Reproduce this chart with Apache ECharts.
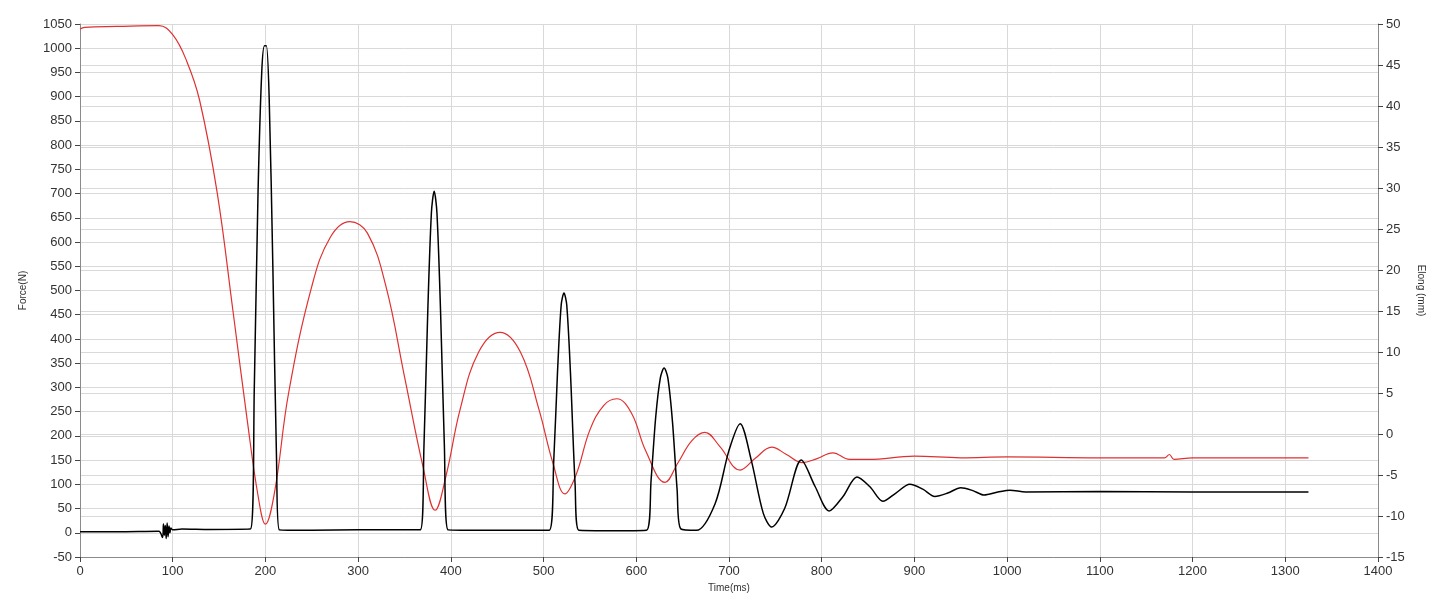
<!DOCTYPE html>
<html>
<head>
<meta charset="utf-8">
<script src="https://cdn.jsdelivr.net/npm/echarts@6/dist/echarts.min.js"></script>
<style>html,body{margin:0;padding:0;background:#fff}#main{width:1445px;height:608px}</style>
</head>
<body>
<div id="main"></div>
<script>
// force (N) vs time (ms)
let forceT = [0, 40, 85, 89, 90, 91, 92, 93, 94, 95, 96, 97, 98, 100, 110, 140, 184, 188, 192, 196, 199, 201, 204, 208, 212, 215, 250, 300, 367, 371, 375, 379, 382, 385, 389, 393, 397, 450, 506, 511, 515, 519, 522, 525, 529, 534, 538, 580, 611, 616, 621, 626, 630, 634, 639, 644, 648, 665, 685, 700, 712, 724, 737, 746, 760, 778, 793, 808, 823, 838, 852, 866, 880, 895, 909, 922, 936, 950, 963, 975, 990, 1003, 1020, 1100, 1200, 1325];
let forceV = [2, 2, 3, -10, 18, -5, 15, -12, 20, -8, 14, 0, 10, 6, 8, 7, 8, 300, 700, 950, 1005, 1005, 900, 550, 150, 6, 5, 6, 6, 180, 450, 660, 705, 660, 450, 180, 6, 5, 5, 150, 330, 470, 495, 470, 330, 100, 5, 4, 5, 110, 240, 320, 340, 320, 230, 90, 8, 5, 60, 170, 225, 150, 40, 12, 50, 150, 95, 45, 75, 115, 95, 65, 82, 100, 90, 75, 82, 93, 87, 78, 84, 88, 84, 85, 84, 84];
// elongation (mm) vs time (ms)
let elongT = [0, 5, 40, 85, 100, 115, 129, 148, 165, 180, 192, 200, 210, 225, 250, 270, 291, 310, 330, 350, 370, 383, 395, 410, 430, 453, 475, 495, 510, 523, 535, 550, 565, 579, 595, 610, 631, 645, 660, 674, 690, 712, 728, 746, 762, 779, 795, 812, 830, 850, 900, 950, 1000, 1100, 1170, 1175, 1180, 1200, 1325];
let elongV = [49.4, 49.6, 49.7, 49.8, 48.7, 45.5, 40.7, 29.4, 15, 2, -7.5, -11, -7, 5, 18, 24, 25.9, 24.5, 18, 7, -4, -9.3, -5, 3, 10, 12.4, 10, 3, -3.5, -7.3, -5, 0.5, 3.5, 4.3, 2.5, -2, -5.9, -3.5, -0.8, 0.2, -1.5, -4.4, -3, -1.6, -2.5, -3.5, -3, -2.3, -3.1, -3.1, -2.7, -2.9, -2.8, -2.9, -2.9, -2.5, -3.1, -2.9, -2.9];

function pairs(t, v) {
  let out = [];
  for (let i = 0; i < t.length; i++) out.push([t[i], v[i]]);
  return out;
}

let chart = echarts.init(document.getElementById('main'));
let axisCommon = {
  axisLine: { show: true, onZero: false, lineStyle: { color: '#8a8a8a' } },
  axisTick: { show: true, lineStyle: { color: '#444' }, length: 5 },
  axisLabel: { color: '#333', fontSize: 13, fontFamily: 'Arial', formatter: function(v) { return String(v); } },
  splitLine: { show: true, lineStyle: { color: '#d9d9d9' } },
  nameTextStyle: { color: '#333', fontSize: 10, fontFamily: 'Arial' }
};
chart.setOption({
  animation: false,
  grid: { left: 80, right: 67, top: 24, bottom: 51 },
  xAxis: Object.assign({}, axisCommon, {
    type: 'value', min: 0, max: 1400, interval: 100,
    name: 'Time(ms)', nameLocation: 'middle', nameGap: 25
  }),
  yAxis: [
    Object.assign({}, axisCommon, {
      type: 'value', min: -50, max: 1050, interval: 50,
      name: 'Force(N)', nameLocation: 'middle', nameGap: 52
    }),
    Object.assign({}, axisCommon, {
      type: 'value', min: -15, max: 50, interval: 5, position: 'right',
      name: 'Elong (mm)', nameLocation: 'middle', nameGap: 30, nameRotate: -90
    })
  ],
  series: [
    {
      type: 'line', yAxisIndex: 1, data: pairs(elongT, elongV),
      smooth: 0.4, showSymbol: false, lineStyle: { color: '#e03030', width: 1.2 }
    },
    {
      type: 'line', yAxisIndex: 0, data: pairs(forceT, forceV),
      smooth: 0.3, showSymbol: false, lineStyle: { color: '#000', width: 1.5 }
    }
  ]
});
</script>
</body>
</html>
